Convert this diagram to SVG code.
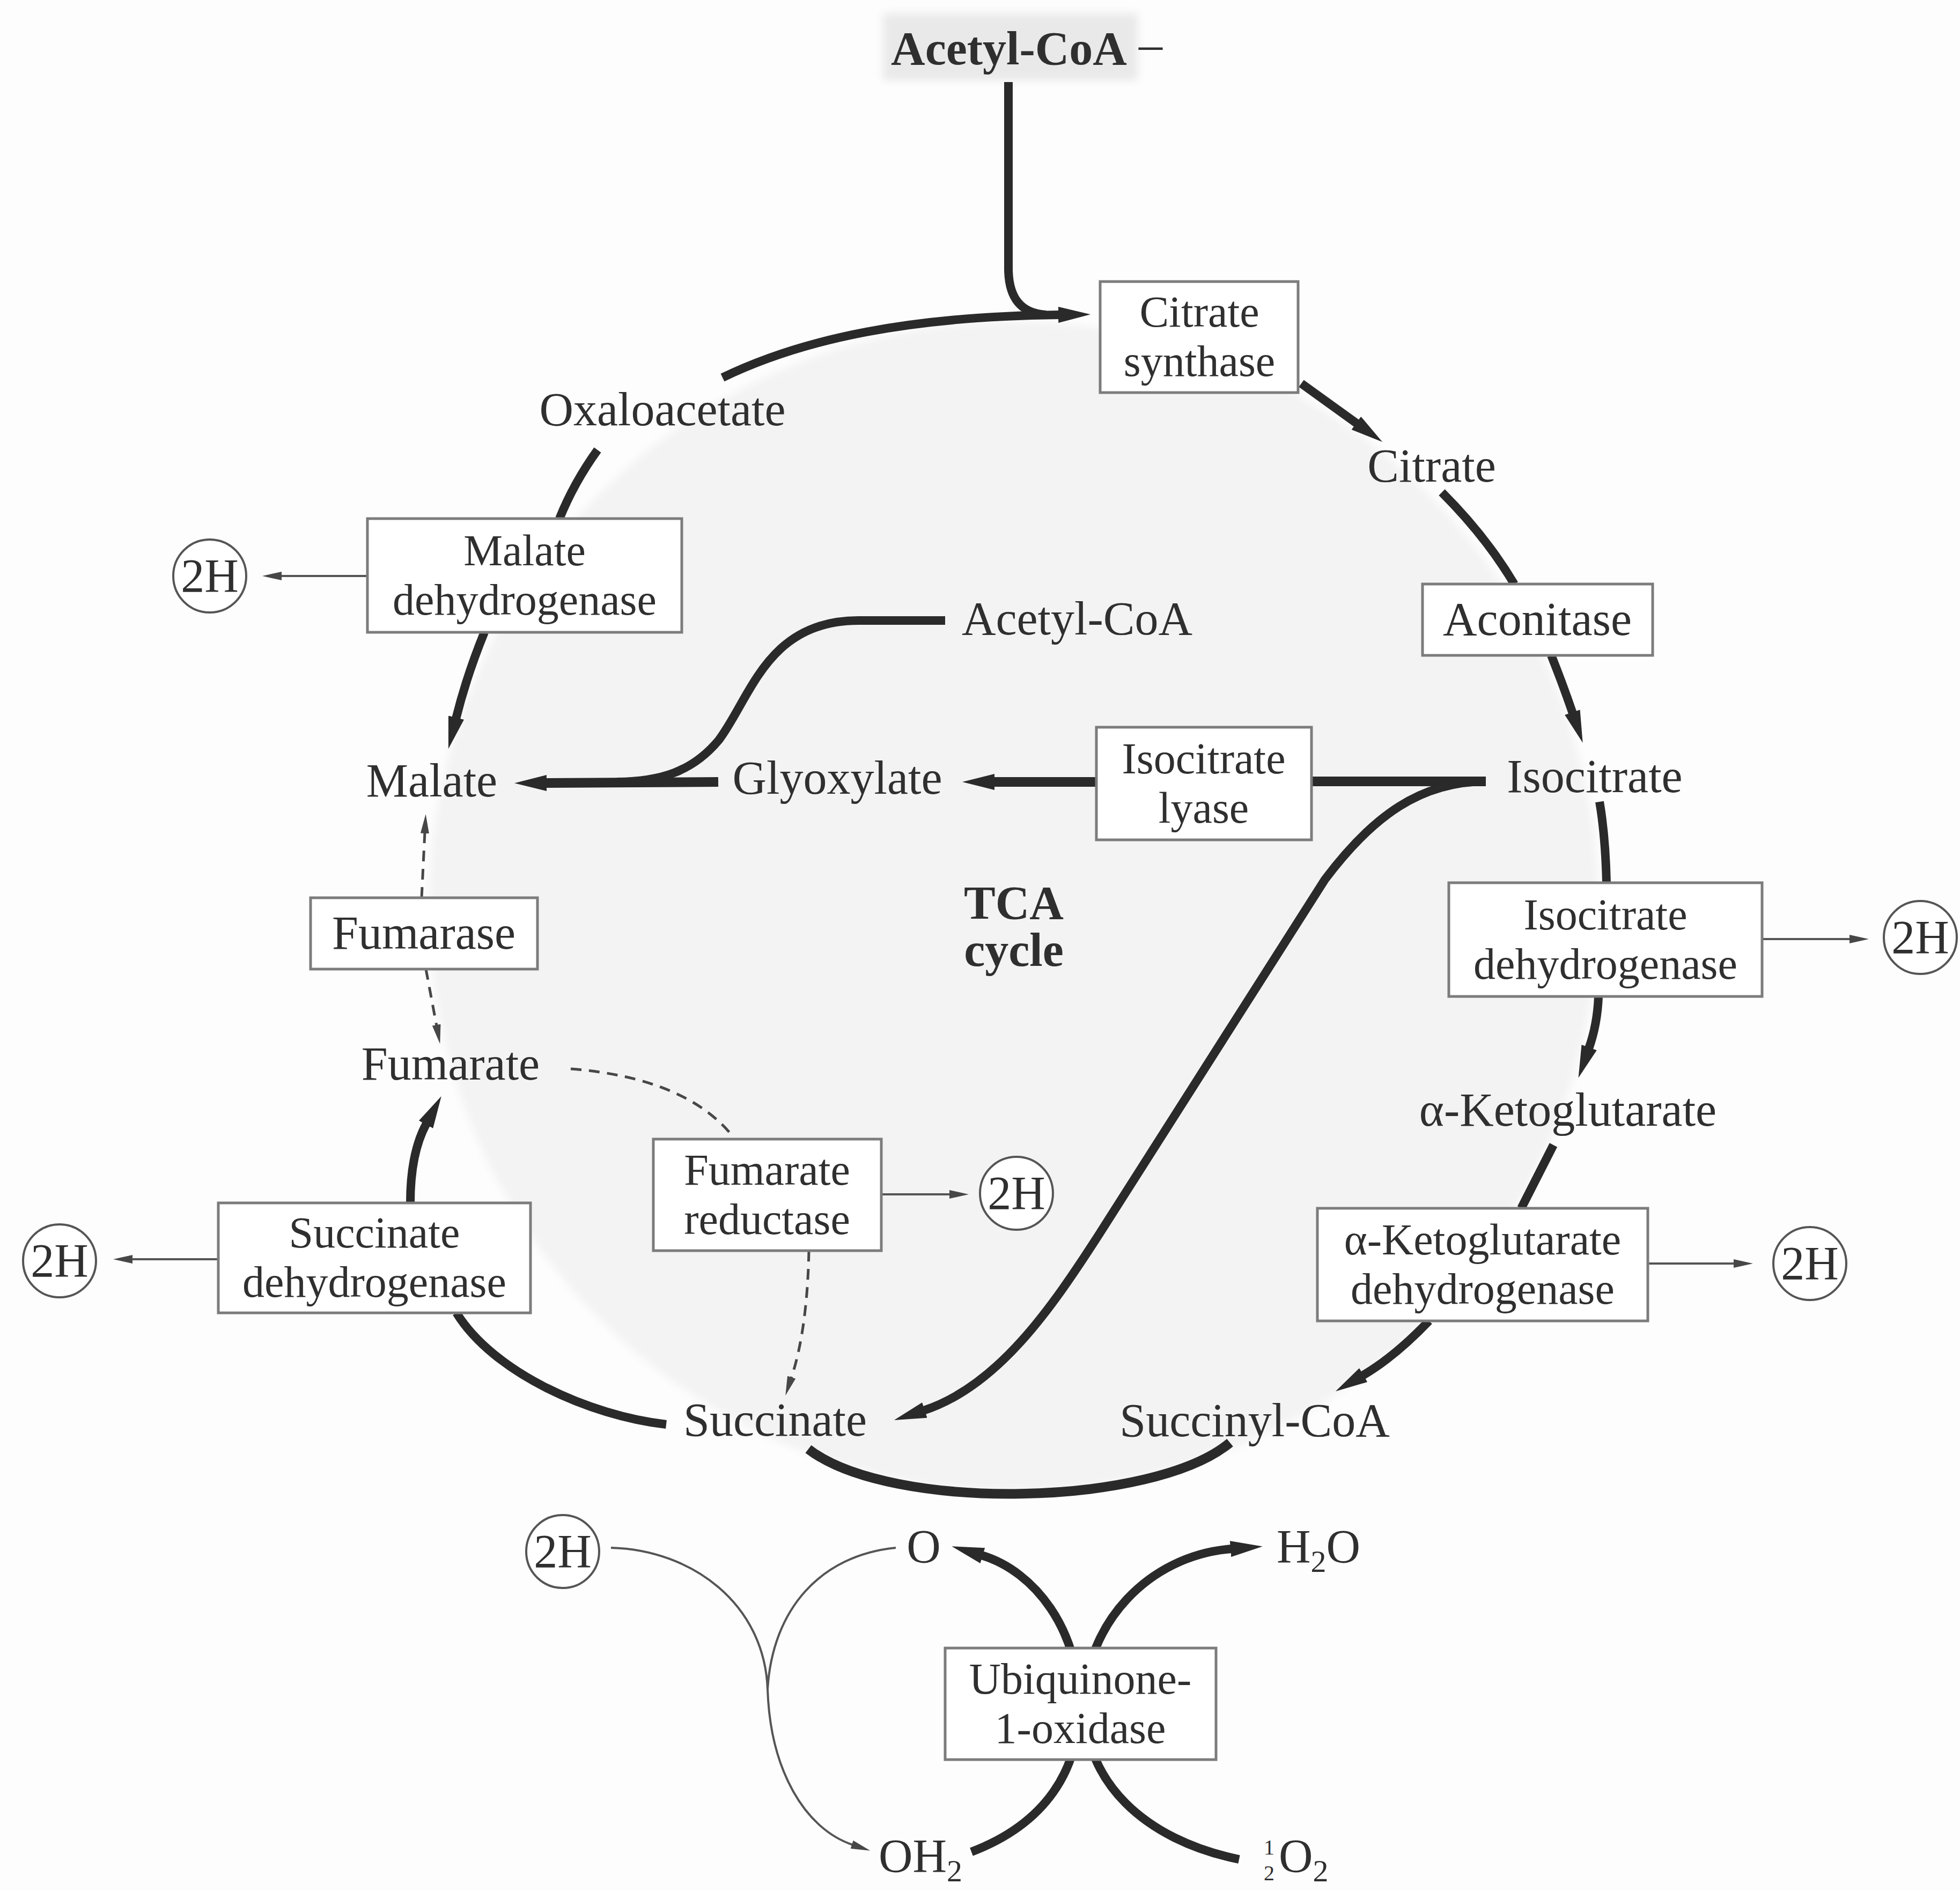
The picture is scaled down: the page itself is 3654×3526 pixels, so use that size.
<svg xmlns="http://www.w3.org/2000/svg" width="3654" height="3526" viewBox="0 0 3654 3526">
  <defs>
    <style>
      .lbl { font-family: "Liberation Serif", "Times New Roman", serif; font-size: 88px; fill: #2f2f2f; text-anchor: middle; }
      .two { font-size: 82px; }
      .b { font-weight: bold; }
      .box { fill: #ffffff; stroke: #7c7c7c; stroke-width: 5; }
      .ring { fill: #ffffff; stroke: #555555; stroke-width: 4; }
      .thick { fill: none; stroke: #2a2a2a; stroke-width: 16; }
      .heavy { fill: none; stroke: #2a2a2a; stroke-width: 18; }
      .thin { fill: none; stroke: #555555; stroke-width: 4; }
      .dash { fill: none; stroke: #474747; stroke-width: 5; stroke-dasharray: 20 14; }
    </style>
    <filter id="soft" x="-10%" y="-10%" width="120%" height="120%">
      <feGaussianBlur stdDeviation="8"/>
    </filter>
    <marker id="ah" viewBox="0 0 60 30" refX="2" refY="15" markerWidth="60" markerHeight="30" markerUnits="userSpaceOnUse" orient="auto">
      <path d="M0,0 L60,15 L0,30 z" fill="#2a2a2a"/>
    </marker>
    <marker id="ahs" viewBox="0 0 36 16" refX="2" refY="8" markerWidth="36" markerHeight="16" markerUnits="userSpaceOnUse" orient="auto">
      <path d="M0,0 L36,8 L0,16 z" fill="#474747"/>
    </marker>
  </defs>

  <!-- page and cycle shading -->
  <rect x="0" y="0" width="3654" height="3526" fill="#fdfdfd"/>
  <circle cx="1890" cy="1690" r="1090" fill="#f3f3f3" filter="url(#soft)"/>
  <rect x="1646" y="25" width="475" height="125" fill="#e9e9e9" filter="url(#soft)"/>

  <!-- connectors -->
  <g id="connectors">
    <!-- TCA cycle -->
    <path class="thick" d="M1880,153 L1880,500 Q1880,583 1950,587"/>
    <path class="thick" d="M1347,704 C1500,630 1700,590 1975,587" marker-end="url(#ah)"/>
    <path class="thick" d="M2426,715 L2530,790" marker-end="url(#ah)"/>
    <path class="thick" d="M2688,918 Q2770,1000 2823,1089"/>
    <path class="thick" d="M2892,1222 Q2915,1280 2932,1330" marker-end="url(#ah)"/>
    <path class="thick" d="M2982,1495 Q2993,1560 2995,1646"/>
    <path class="thick" d="M2980,1858 Q2978,1910 2962,1955" marker-end="url(#ah)"/>
    <path class="thick" d="M2896,2135 L2836,2253"/>
    <path class="thick" d="M2664,2463 Q2600,2530 2540,2565" marker-end="url(#ah)"/>
    <path class="heavy" d="M2293,2690 C2150,2810 1660,2820 1507,2702"/>
    <path class="thick" d="M1242,2656 C1100,2640 920,2560 851,2448"/>
    <path class="thick" d="M765,2243 Q765,2150 795,2095" marker-end="url(#ah)"/>
    <path class="thick" d="M903,1179 Q870,1260 850,1340" marker-end="url(#ah)"/>
    <path class="thick" d="M1114,839 Q1070,900 1043,967"/>
    <!-- fumarase and fumarate reductase (dashed) -->
    <path class="dash" d="M794,1807 L814,1913" marker-end="url(#ahs)"/>
    <path class="dash" d="M786,1674 L792,1552" marker-end="url(#ahs)"/>
    <path class="dash" d="M1064,1993 Q1280,2010 1367,2120"/>
    <path class="dash" d="M1508,2332 Q1505,2480 1475,2570" marker-end="url(#ahs)"/>
    <!-- glyoxylate shunt -->
    <path class="heavy" d="M2770,1457 L2445,1457"/>
    <path class="heavy" d="M2044,1458 L1852,1458" marker-end="url(#ah)"/>
    <path class="heavy" d="M1339,1458 L1017,1460" marker-end="url(#ah)"/>
    <path class="thick" d="M1762,1157 L1600,1157 C1430,1157 1400,1300 1340,1380 C1290,1440 1230,1457 1150,1458"/>
    <path class="thick" stroke-width="14" d="M2770,1457 C2650,1457 2560,1520 2470,1640 L2050,2300 C1960,2440 1860,2585 1722,2630" marker-end="url(#ah)"/>
    <!-- reducing equivalents -->
    <path class="thin" d="M685,1074 L523,1074" marker-end="url(#ahs)"/>
    <path class="thin" d="M3285,1751 L3450,1751" marker-end="url(#ahs)"/>
    <path class="thin" d="M3072,2356 L3234,2356" marker-end="url(#ahs)"/>
    <path class="thin" d="M407,2348 L245,2348" marker-end="url(#ahs)"/>
    <path class="thin" d="M1643,2227 L1772,2227" marker-end="url(#ahs)"/>
    <!-- ubiquinone oxidase -->
    <path class="thin" d="M1139,2886 C1290,2890 1425,2990 1431,3150 C1436,3300 1500,3410 1590,3440" marker-end="url(#ahs)"/>
    <path class="thin" d="M1670,2886 C1530,2900 1440,3000 1431,3150"/>
    <path class="thick" d="M1811,3453 C1950,3400 2012,3300 2012,3180 C2012,3040 1930,2930 1830,2900" marker-end="url(#ah)"/>
    <path class="thick" d="M2310,3467 C2130,3430 2022,3320 2022,3180 C2022,3030 2140,2900 2296,2888" marker-end="url(#ah)"/>
  </g>

  <!-- metabolites -->
  <g id="acetylcoa-top">
    <text class="lbl b" x="1881" y="120" font-size="86">Acetyl-CoA</text>
    <text class="lbl" x="2145" y="112">–</text>
  </g>
  <g id="oxaloacetate"><text class="lbl" x="1235" y="793">Oxaloacetate</text></g>
  <g id="citrate"><text class="lbl" x="2669" y="898">Citrate</text></g>
  <g id="isocitrate"><text class="lbl" x="2973" y="1477">Isocitrate</text></g>
  <g id="ketoglutarate"><text class="lbl" x="2923" y="2099">α-Ketoglutarate</text></g>
  <g id="succinylcoa"><text class="lbl" x="2339" y="2678">Succinyl-CoA</text></g>
  <g id="succinate"><text class="lbl" x="1445" y="2677">Succinate</text></g>
  <g id="fumarate"><text class="lbl" x="840" y="2013">Fumarate</text></g>
  <g id="malate"><text class="lbl" x="805" y="1485">Malate</text></g>
  <g id="glyoxylate"><text class="lbl" x="1561" y="1480">Glyoxylate</text></g>
  <g id="acetylcoa-mid"><text class="lbl" x="2008" y="1183">Acetyl-CoA</text></g>
  <g id="tca-label">
    <text class="lbl b" x="1890" y="1713" font-size="78">TCA<tspan x="1890" dy="88">cycle</tspan></text>
  </g>

  <!-- enzymes -->
  <g id="citrate-synthase">
    <rect class="box" x="2051" y="525" width="369" height="207"/>
    <text class="lbl two" x="2236" y="609">Citrate<tspan x="2236" dy="92">synthase</tspan></text>
  </g>
  <g id="aconitase">
    <rect class="box" x="2652" y="1089" width="429" height="133"/>
    <text class="lbl" x="2866" y="1184">Aconitase</text>
  </g>
  <g id="isocitrate-dh">
    <rect class="box" x="2701" y="1646" width="584" height="212"/>
    <text class="lbl two" x="2993" y="1733">Isocitrate<tspan x="2993" dy="92">dehydrogenase</tspan></text>
  </g>
  <g id="ketoglutarate-dh">
    <rect class="box" x="2456" y="2253" width="616" height="210"/>
    <text class="lbl two" x="2764" y="2339">α-Ketoglutarate<tspan x="2764" dy="92">dehydrogenase</tspan></text>
  </g>
  <g id="succinate-dh">
    <rect class="box" x="407" y="2243" width="582" height="205"/>
    <text class="lbl two" x="698" y="2326">Succinate<tspan x="698" dy="92">dehydrogenase</tspan></text>
  </g>
  <g id="fumarase">
    <rect class="box" x="579" y="1674" width="423" height="133"/>
    <text class="lbl" x="790" y="1769">Fumarase</text>
  </g>
  <g id="malate-dh">
    <rect class="box" x="685" y="967" width="586" height="212"/>
    <text class="lbl two" x="978" y="1054">Malate<tspan x="978" dy="92">dehydrogenase</tspan></text>
  </g>
  <g id="isocitrate-lyase">
    <rect class="box" x="2044" y="1356" width="401" height="210"/>
    <text class="lbl two" x="2244" y="1442">Isocitrate<tspan x="2244" dy="92">lyase</tspan></text>
  </g>
  <g id="fumarate-reductase">
    <rect class="box" x="1218" y="2124" width="425" height="208"/>
    <text class="lbl two" x="1430" y="2209">Fumarate<tspan x="1430" dy="92">reductase</tspan></text>
  </g>
  <g id="ubiquinone-oxidase">
    <rect class="box" x="1762" y="3073" width="505" height="208"/>
    <text class="lbl two" x="2014" y="3158">Ubiquinone-<tspan x="2014" dy="92">1-oxidase</tspan></text>
  </g>

  <!-- reducing equivalents -->
  <g id="h2-mdh"><circle class="ring" cx="391" cy="1074" r="68"/><text class="lbl" x="391" y="1103" font-size="84">2H</text></g>
  <g id="h2-icdh"><circle class="ring" cx="3580" cy="1748" r="68"/><text class="lbl" x="3580" y="1777" font-size="84">2H</text></g>
  <g id="h2-kgdh"><circle class="ring" cx="3374" cy="2356" r="68"/><text class="lbl" x="3374" y="2385" font-size="84">2H</text></g>
  <g id="h2-sdh"><circle class="ring" cx="111" cy="2351" r="68"/><text class="lbl" x="111" y="2380" font-size="84">2H</text></g>
  <g id="h2-fr"><circle class="ring" cx="1895" cy="2225" r="68"/><text class="lbl" x="1895" y="2254" font-size="84">2H</text></g>
  <g id="h2-ubq"><circle class="ring" cx="1049" cy="2893" r="68"/><text class="lbl" x="1049" y="2922" font-size="84">2H</text></g>

  <!-- oxidase substrates and products -->
  <g id="o-atom"><text class="lbl" x="1722" y="2913">O</text></g>
  <g id="water"><text class="lbl" x="2380" y="2913" style="text-anchor:start">H<tspan font-size="58" dy="18">2</tspan><tspan dy="-18">O</tspan></text></g>
  <g id="oh2"><text class="lbl" x="1638" y="3490" style="text-anchor:start">OH<tspan font-size="58" dy="18">2</tspan></text></g>
  <g id="half-o2">
    <text class="lbl" x="2356" y="3490" style="text-anchor:start"><tspan font-size="40" dy="-32">1</tspan><tspan x="2356" font-size="40" dy="48">2</tspan><tspan x="2384" dy="-16">O</tspan><tspan font-size="58" dy="18">2</tspan></text>
  </g>
</svg>
